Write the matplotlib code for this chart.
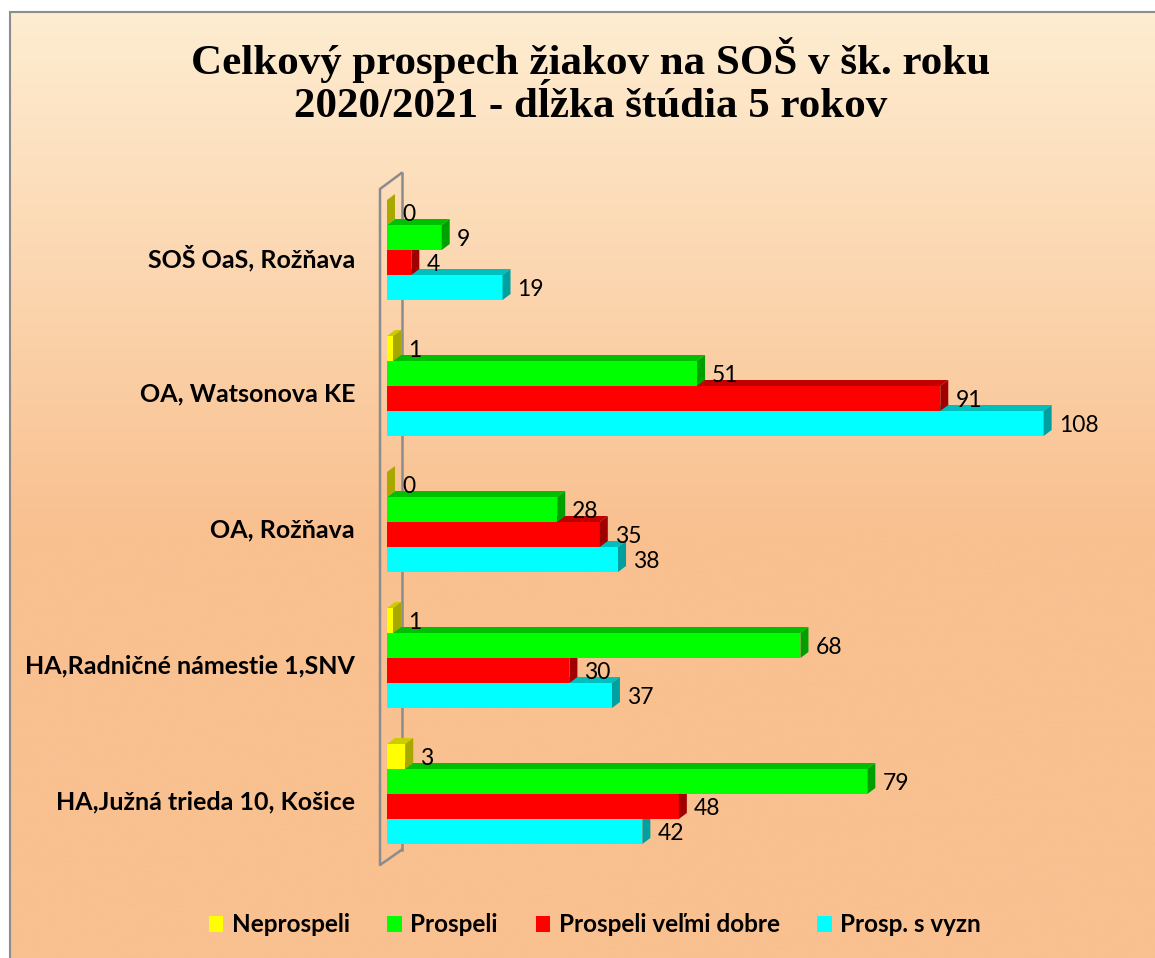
import numpy as np
import matplotlib.pyplot as plt
import matplotlib.transforms as mtransforms
from matplotlib.patches import Polygon, Rectangle

schools = ['SOŠ OaS, Rožňava', 'OA, Watsonova KE', 'OA, Rožňava',
           'HA,Radničné námestie 1,SNV', 'HA,Južná trieda 10, Košice']
series = ['Neprospeli', 'Prospeli', 'Prospeli veľmi dobre', 'Prosp. s vyzn']
neprospeli = [0, 1, 0, 1, 3]
prospeli = [9, 51, 28, 68, 79]
velmi_dobre = [4, 91, 35, 30, 48]
s_vyzn = [19, 108, 38, 37, 42]

front = ['#FFFF00', '#00FF00', '#FF0000', '#00FFFF']
top = ['#CCCC00', '#00BF00', '#C00000', '#00BFBF']
side = ['#A8A800', '#00A000', '#A00000', '#00A0A0']

W, H = 1155, 958
fig = plt.figure(figsize=(W / 100, H / 100), dpi=100)

# background gradient + border
bg = fig.add_axes([0, 0, 1, 1], zorder=-10)
c_top = np.array([254, 237, 209]) / 255
c_bot = np.array([249, 192, 144]) / 255
t = np.clip(np.linspace(0, 1, 400) / 0.55, 0, 1)[:, None]
grad = c_top * (1 - t) + c_bot * t
bg.imshow(grad[:, None, :], aspect='auto', extent=[10 / W, 1.01, 0, 1 - 12 / H],
          transform=bg.transAxes)
bg.set_xlim(0, 1)
bg.set_ylim(0, 1)
bg.add_patch(Rectangle((10 / W, -0.01), 1.0, 1 - 12 / H + 0.01, fill=False,
                       edgecolor='#8C8C8C', linewidth=1.5, transform=bg.transAxes))
bg.axis('off')

# main plot area: x 0..120 -> 387..1117 px, groups every 136 px
ax = fig.add_axes([387 / W, 1 - 862 / H, 729.6 / W, 680 / H])
ax.set_facecolor('none')
ax.set_xlim(0, 120)
ax.set_ylim(4.5, -0.5)
for s in ax.spines.values():
    s.set_visible(False)
ax.set_xticks([])

px_x = 120 / 729.6
px_y = 5 / 680
DX, DY = 8 * px_x, 6 * px_y
h = 25 * px_y

# side wall
wl, wr = -7 * px_x, 14.5 * px_x
wall_x = [wr, wl, wl, wr]
wall_y = [4.5 - 12 * px_y, 4.5 + 3 * px_y, -0.5 + 7 * px_y, -0.5 - 9 * px_y]
ax.plot(wall_x, wall_y, color='#8C8C8C', lw=1.8, clip_on=False, zorder=1)
ax.plot([wr, wr], [-0.5 - 9 * px_y, 4.5 - 12 * px_y], color='#8C8C8C', lw=1.8,
        clip_on=False, zorder=1)

data = [neprospeli, prospeli, velmi_dobre, s_vyzn]
for g in range(len(schools)):
    for k in [3, 2, 1, 0]:
        v = data[k][g]
        yc = g + (k - 1.5) * h
        y0, y1 = yc - h / 2, yc + h / 2
        z = 2 + (3 - k)
        ax.add_patch(Polygon([(0, y0), (v, y0), (v, y1), (0, y1)], closed=True,
                             facecolor=front[k], edgecolor='none', zorder=z))
        ax.add_patch(Polygon([(0, y0), (v, y0), (v + DX, y0 - DY), (DX, y0 - DY)],
                             closed=True, facecolor=top[k], edgecolor='none', zorder=z))
        ax.add_patch(Polygon([(v, y0), (v + DX, y0 - DY), (v + DX, y1 - DY), (v, y1)],
                             closed=True, facecolor=side[k], edgecolor='none', zorder=z))
        ax.text(v + 15 * px_x, yc + 2 * px_y, str(v), ha='left', va='center',
                fontsize=16.5, family='Lato', color='black', zorder=10)

ax.set_yticks(range(len(schools)))
ax.set_yticklabels(schools, fontsize=18, fontweight='bold', family='Lato')
ax.tick_params(axis='y', length=0, pad=23)
shift = mtransforms.ScaledTranslation(0, -6 / 100, fig.dpi_scale_trans)
for lab in ax.get_yticklabels():
    lab.set_transform(lab.get_transform() + shift)

fig.text(0.511, 1 - 60 / H, 'Celkový prospech žiakov na SOŠ v šk. roku',
         ha='center', va='center', fontsize=31, fontweight='bold',
         family='Liberation Serif')
fig.text(0.511, 1 - 107 / H, '2020/2021 - dĺžka štúdia 5 rokov',
         ha='center', va='center', fontsize=31, fontweight='bold',
         family='Liberation Serif')

handles = [Rectangle((0, 0), 1, 1, facecolor=c, edgecolor='none') for c in front]
fig.legend(handles, series, loc='center', bbox_to_anchor=(0.515, 1 - 925 / H),
           ncol=4, frameon=False, handlelength=0.6, handleheight=0.6,
           handletextpad=0.35, columnspacing=1.55,
           prop={'family': 'Lato', 'weight': 'bold', 'size': 17.5})

fig.savefig('out.png', dpi=100)
